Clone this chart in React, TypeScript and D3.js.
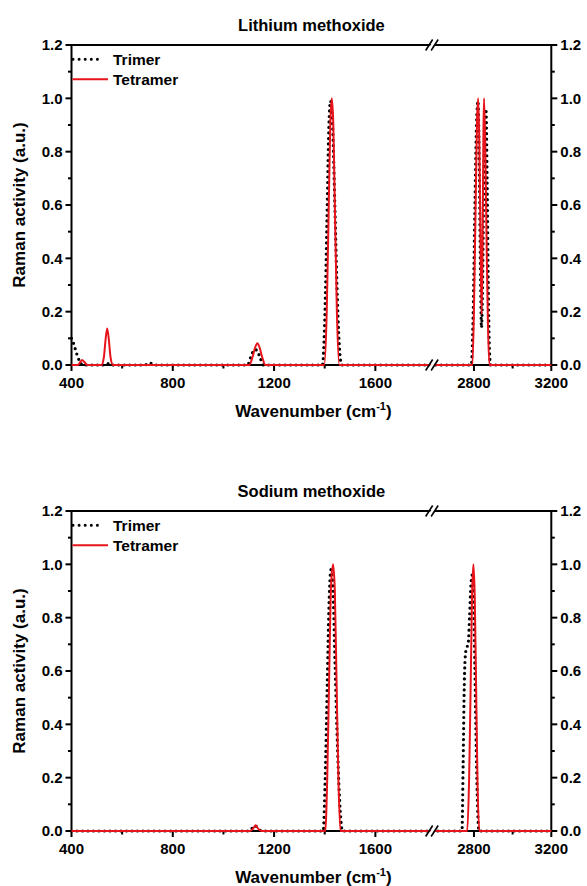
import React from "react";
import * as d3 from "d3";

// Wavenumber axis with a break between 1800 and 2600 cm-1
const X_DOMAIN = [400, 1800, 2600, 3200];
const X_MAJOR = [400, 800, 1200, 1600, 2800, 3200];
const X_MINOR = [600, 1000, 1400, 3000];
const Y_MAJOR = [0, 0.2, 0.4, 0.6, 0.8, 1.0, 1.2];
const Y_MINOR = [0.1, 0.3, 0.5, 0.7, 0.9, 1.1];

const SERIES_NAMES = ["Trimer", "Tetramer"];

// Lithium methoxide spectra: [wavenumber, normalised Raman activity]
const liTrimer: [number, number][] = [
  [400, 0.1], [405, 0.09], [410, 0.075], [418, 0.05], [425, 0.03], [433, 0.012], [445, 0],
  [536, 0], [545, 0.005], [554, 0],
  [690, 0], [708, 0.008], [726, 0],
  [1095, 0], [1108, 0.03], [1118, 0.052], [1126, 0.058], [1134, 0.052], [1144, 0.03], [1158, 0],
  [1391, 0], [1401, 0.2], [1409, 0.55], [1416, 0.88], [1423, 0.99], [1431, 0.9], [1440, 0.6],
  [1450, 0.25], [1460, 0.04], [1468, 0],
  [2786, 0], [2796, 0.2], [2805, 0.6], [2813, 0.9], [2821, 0.99], [2828, 0.72], [2834, 0.32],
  [2839, 0.14], [2845, 0.32], [2851, 0.7], [2857, 0.92], [2862, 0.96], [2868, 0.7], [2874, 0.3],
  [2880, 0.06], [2886, 0],
  [3200, 0],
];

const liTetramer: [number, number][] = [
  [400, 0], [425, 0], [435, 0.012], [442, 0.019], [450, 0.012], [462, 0],
  [518, 0], [528, 0.03], [534, 0.09], [541, 0.137], [548, 0.09], [554, 0.03], [564, 0],
  [1102, 0], [1115, 0.03], [1125, 0.065], [1134, 0.082], [1143, 0.065], [1153, 0.03], [1166, 0],
  [1398, 0], [1408, 0.2], [1416, 0.6], [1422, 0.9], [1428, 1.0], [1434, 0.9], [1440, 0.6],
  [1448, 0.2], [1458, 0],
  [2792, 0], [2801, 0.25], [2809, 0.62], [2816, 0.92], [2822, 1.0], [2828, 0.82], [2834, 0.45],
  [2840, 0.19], [2845, 0.5], [2849, 0.88], [2852, 1.0], [2858, 0.84], [2865, 0.48], [2872, 0.16],
  [2880, 0],
  [3200, 0],
];

// Sodium methoxide spectra
const naTrimer: [number, number][] = [
  [400, 0],
  [1100, 0], [1113, 0.01], [1125, 0.02], [1137, 0.01], [1152, 0],
  [1394, 0], [1402, 0.2], [1410, 0.55], [1418, 0.88], [1425, 0.98], [1432, 0.92], [1441, 0.62],
  [1451, 0.3], [1461, 0.08], [1470, 0],
  [2738, 0], [2744, 0.25], [2750, 0.55], [2757, 0.67], [2764, 0.69], [2770, 0.7], [2777, 0.8],
  [2784, 0.92], [2791, 0.96], [2798, 0.88], [2805, 0.6], [2812, 0.3], [2819, 0.08], [2826, 0],
  [3200, 0],
];

const naTetramer: [number, number][] = [
  [400, 0],
  [1105, 0], [1118, 0.01], [1127, 0.022], [1136, 0.01], [1150, 0],
  [1402, 0], [1410, 0.2], [1418, 0.6], [1425, 0.92], [1433, 1.0], [1440, 0.9], [1447, 0.55],
  [1454, 0.2], [1462, 0],
  [2765, 0], [2775, 0.2], [2783, 0.55], [2790, 0.88], [2797, 1.0], [2804, 0.88], [2811, 0.55],
  [2818, 0.2], [2828, 0],
  [3200, 0],
];

const FONT = "'Liberation Sans', Arial, sans-serif";
const LEFT = 71.5;
const RIGHT = 551.3;
const PLOT_H = 320;
const RED = "#e8141c";

const fmt = d3.format(".1f");

function BreakMark({ x, y }: { x: number; y: number }) {
  const h = 5.5;
  return (
    <g>
      <polygon points={`${x - 5.5},${y + h} ${x - 2},${y + h} ${x + 5},${y - h} ${x + 1.5},${y - h}`} fill="#fff" />
      <line x1={x - 7} y1={y + h} x2={x} y2={y - h} stroke="#000" strokeWidth={1.6} />
      <line x1={x - 1.5} y1={y + h} x2={x + 5.5} y2={y - h} stroke="#000" strokeWidth={1.6} />
    </g>
  );
}

function Panel({
  top,
  title,
  trimer,
  tetramer,
}: {
  top: number;
  title: string;
  trimer: [number, number][];
  tetramer: [number, number][];
}) {
  const bottom = top + PLOT_H;
  const x = d3.scaleLinear().domain(X_DOMAIN).range([LEFT, 426, 435.3, RIGHT]);
  const y = d3.scaleLinear().domain([0, 1.2]).range([bottom, top]);
  const line = d3
    .line<[number, number]>()
    .x((d) => x(d[0]))
    .y((d) => y(d[1]))
    .curve(d3.curveMonotoneX);
  const breakX = (x(1800) + x(2600)) / 2;
  const midY = (top + bottom) / 2;
  const cx = (LEFT + RIGHT) / 2;

  return (
    <g fontFamily={FONT} fontWeight="bold">
      <text x={cx} y={top - 14} textAnchor="middle" fontSize={16.5}>
        {title}
      </text>

      {/* frame */}
      <rect x={LEFT} y={top} width={RIGHT - LEFT} height={PLOT_H} fill="none" stroke="#000" strokeWidth={2} />

      {/* x ticks */}
      {X_MAJOR.map((v) => (
        <g key={"xm" + v}>
          <line x1={x(v)} x2={x(v)} y1={bottom} y2={bottom + 6} stroke="#000" strokeWidth={2} />
          <text x={x(v)} y={bottom + 23} textAnchor="middle" fontSize={15}>
            {v}
          </text>
        </g>
      ))}
      {X_MINOR.map((v) => (
        <line key={"xn" + v} x1={x(v)} x2={x(v)} y1={bottom} y2={bottom + 3.5} stroke="#000" strokeWidth={2} />
      ))}

      {/* y ticks, both sides */}
      {Y_MAJOR.map((v) => (
        <g key={"ym" + v}>
          <line x1={LEFT - 6} x2={LEFT} y1={y(v)} y2={y(v)} stroke="#000" strokeWidth={2} />
          <line x1={RIGHT} x2={RIGHT + 6} y1={y(v)} y2={y(v)} stroke="#000" strokeWidth={2} />
          <text x={LEFT - 9} y={y(v) + 5.3} textAnchor="end" fontSize={15}>
            {fmt(v)}
          </text>
          <text x={RIGHT + 9} y={y(v) + 5.3} textAnchor="start" fontSize={15}>
            {fmt(v)}
          </text>
        </g>
      ))}
      {Y_MINOR.map((v) => (
        <g key={"yn" + v}>
          <line x1={LEFT - 3.5} x2={LEFT} y1={y(v)} y2={y(v)} stroke="#000" strokeWidth={2} />
          <line x1={RIGHT} x2={RIGHT + 3.5} y1={y(v)} y2={y(v)} stroke="#000" strokeWidth={2} />
        </g>
      ))}

      {/* axis titles */}
      <text x={cx + 2} y={bottom + 52} textAnchor="middle" fontSize={17}>
        Wavenumber (cm
        <tspan fontSize={11} dy={-7}>
          -1
        </tspan>
        <tspan dy={7}>)</tspan>
      </text>
      <text transform={`translate(24.5,${midY}) rotate(-90)`} textAnchor="middle" fontSize={17}>
        Raman activity (a.u.)
      </text>

      {/* spectra */}
      <path
        d={line(trimer) ?? ""}
        fill="none"
        stroke="#000"
        strokeWidth={3.2}
        strokeDasharray="0 5.5"
        strokeLinecap="round"
      />
      <path d={line(tetramer) ?? ""} fill="none" stroke={RED} strokeWidth={2} strokeLinejoin="round" />

      {/* axis breaks */}
      <BreakMark x={breakX + 2} y={top} />
      <BreakMark x={breakX + 2} y={bottom} />

      {/* legend */}
      <line
        x1={LEFT + 1.5}
        x2={LEFT + 31}
        y1={top + 14.3}
        y2={top + 14.3}
        stroke="#000"
        strokeWidth={3}
        strokeDasharray="0 6.1"
        strokeLinecap="round"
      />
      <text x={LEFT + 41.5} y={top + 19.6} fontSize={15.5}>
        {SERIES_NAMES[0]}
      </text>
      <line x1={LEFT + 1} x2={LEFT + 36.5} y1={top + 34.3} y2={top + 34.3} stroke={RED} strokeWidth={2} />
      <text x={LEFT + 41.5} y={top + 39.6} fontSize={15.5}>
        {SERIES_NAMES[1]}
      </text>
    </g>
  );
}

export default function App() {
  return (
    <svg
      width={587}
      height={886}
      viewBox="0 0 587 886"
      style={{ position: "absolute", left: 0, top: 0, background: "#fff" }}
    >
      <rect width={587} height={886} fill="#fff" />
      <Panel top={45} title="Lithium methoxide" trimer={liTrimer} tetramer={liTetramer} />
      <Panel top={511} title="Sodium methoxide" trimer={naTrimer} tetramer={naTetramer} />
    </svg>
  );
}
